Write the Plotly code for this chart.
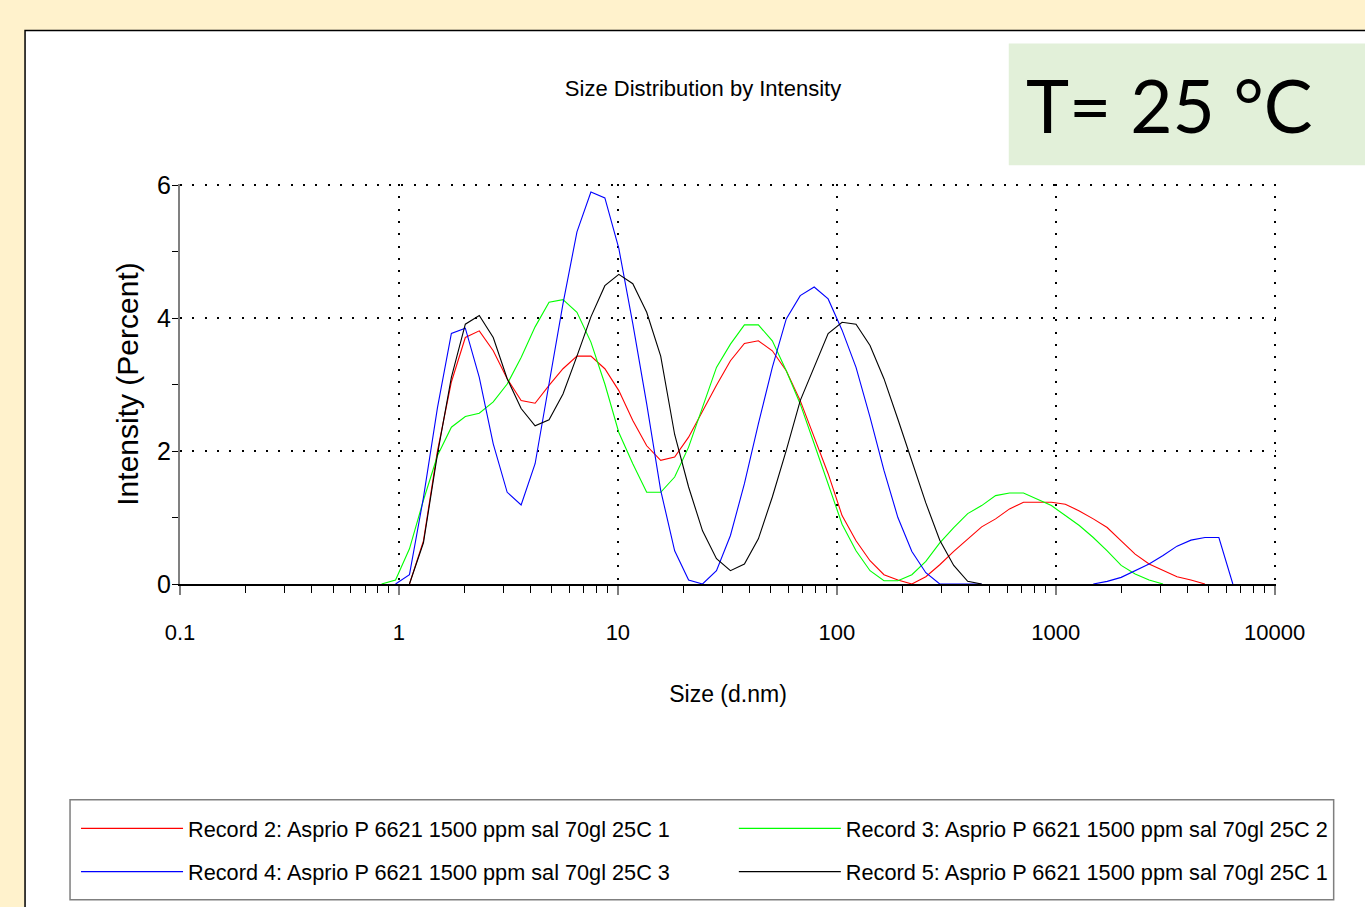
import plotly.graph_objects as go

# ---- data: standard 70 size bins (d.nm) and intensity (%) per record ----
sizes = [0.4, 0.4632, 0.5365, 0.6213, 0.7195, 0.8332, 0.9649, 1.117, 1.294, 1.499,
         1.736, 2.010, 2.328, 2.696, 3.122, 3.615, 4.187, 4.849, 5.615, 6.503,
         7.531, 8.721, 10.10, 11.70, 13.54, 15.69, 18.17, 21.04, 24.36, 28.21,
         32.67, 37.84, 43.82, 50.75, 58.77, 68.06, 78.82, 91.28, 105.7, 122.4,
         141.8, 164.2, 190.1, 220.2, 255.0, 295.3, 342.0, 396.1, 458.7, 531.2,
         615.1, 712.4, 825.0, 955.4, 1106, 1281, 1484, 1718, 1990, 2305,
         2669, 3091, 3580, 4145, 4801, 5560, 6439, 7456, 8635, 10000]

N = None
rec2 = [N, N, N, N, N, N, N, 0, 0.65, 2.0,
        3.04, 3.71, 3.81, 3.51, 3.09, 2.76, 2.72, 2.99, 3.24, 3.43,
        3.43, 3.24, 2.91, 2.46, 2.08, 1.86, 1.91, 2.21, 2.61, 2.99,
        3.36, 3.62, 3.66, 3.51, 3.21, 2.76, 2.21, 1.66, 1.03, 0.65,
        0.35, 0.14, 0.06, 0, 0.11, 0.29, 0.49, 0.68, 0.86, 0.98,
        1.13, 1.23, 1.23, 1.23, 1.20, 1.10, 0.98, 0.85, 0.65, 0.45,
        0.30, 0.20, 0.11, 0.06, 0, N, N, N, N, N]

rec3 = [N, N, N, N, N, 0, 0.06, 0.53, 1.26, 1.93,
        2.36, 2.52, 2.57, 2.74, 3.01, 3.41, 3.87, 4.24, 4.28, 4.09,
        3.64, 3.01, 2.28, 1.81, 1.38, 1.38, 1.61, 2.06, 2.66, 3.26,
        3.61, 3.90, 3.90, 3.66, 3.21, 2.71, 2.11, 1.51, 0.90, 0.50,
        0.20, 0.05, 0.05, 0.14, 0.34, 0.62, 0.85, 1.06, 1.18, 1.33,
        1.37, 1.37, 1.27, 1.18, 1.03, 0.88, 0.70, 0.50, 0.28, 0.15,
        0.06, 0, N, N, N, N, N, N, N, N]

rec4 = [N, N, N, N, N, N, 0, 0.14, 1.3, 2.65,
        3.77, 3.85, 3.11, 2.11, 1.38, 1.19, 1.81, 3.01, 4.22, 5.30,
        5.90, 5.81, 5.05, 3.92, 2.71, 1.41, 0.50, 0.06, 0, 0.20,
        0.73, 1.51, 2.41, 3.26, 3.99, 4.34, 4.47, 4.29, 3.82, 3.26,
        2.51, 1.71, 1.00, 0.49, 0.17, 0, 0, 0, 0, N,
        N, N, N, N, N, N, 0, 0.04, 0.10, 0.20,
        0.30, 0.43, 0.57, 0.66, 0.70, 0.70, 0, N, N, N]

rec5 = [N, N, N, N, N, N, N, 0, 0.62, 1.95,
        3.11, 3.91, 4.04, 3.71, 3.09, 2.64, 2.38, 2.47, 2.86, 3.43,
        4.02, 4.49, 4.66, 4.52, 4.09, 3.43, 2.25, 1.46, 0.80, 0.38,
        0.20, 0.30, 0.68, 1.31, 2.01, 2.76, 3.26, 3.77, 3.94, 3.91,
        3.59, 3.09, 2.48, 1.84, 1.22, 0.66, 0.28, 0.04, 0, N,
        N, N, N, N, N, N, N, N, N, N,
        N, N, N, N, N, N, N, N, N, N]

series_names = ["Record 2: Asprio P 6621 1500 ppm sal 70gl 25C 1",
                "Record 3: Asprio P 6621 1500 ppm sal 70gl 25C 2",
                "Record 4: Asprio P 6621 1500 ppm sal 70gl 25C 3",
                "Record 5: Asprio P 6621 1500 ppm sal 70gl 25C 1"]
series_values = [rec2, rec3, rec4, rec5]
series_colors = ["#ff0000", "#00ff00", "#0000ff", "#000000"]
series_legend = ["legend", "legend2", "legend", "legend2"]

x_tickvals = [0.1, 1, 10, 100, 1000, 10000]
x_ticktext = ["0.1", "1", "10", "100", "1000", "10000"]
y_tickvals = [0, 2, 4, 6]
y_minorvals = [1, 3, 5]

# ---- layout geometry (pixels) ----
W, H = 1365, 907
X_RANGE = [-1, 4.006]          # log10 range (a hair past 10000 so its grid line shows)
Y_RANGE = [0, 6.02]            # a hair past 6 so its grid line shows
PX_PER_DECADE = 219.0
PX_PER_UNIT = 66.5
L = 180.0
R = L + (X_RANGE[1] - X_RANGE[0]) * PX_PER_DECADE
B = 584.0
T = B - (Y_RANGE[1] - Y_RANGE[0]) * PX_PER_UNIT

def px(xp):
    return (xp - L) / (R - L)
def py(yp):
    return (B - yp) / (B - T)

FONT = "Liberation Sans, Arial, sans-serif"

fig = go.Figure()
for i, (name, vals, col, lg) in enumerate(zip(series_names, series_values,
                                              series_colors, series_legend)):
    fig.add_trace(go.Scatter(x=sizes, y=vals, mode="lines", name=name,
                             legend=lg, legendgroup="g%d" % i,
                             line=dict(color=col, width=1.1), connectgaps=False))

x_minor = [m * 10 ** e for e in range(-1, 4) for m in range(2, 10)]

legend_common = dict(orientation="v", yanchor="top", xanchor="left",
                     bgcolor="rgba(0,0,0,0)", borderwidth=0, itemwidth=102,
                     tracegroupgap=12, traceorder="grouped",
                     font=dict(family=FONT, size=21.7, color="#000000"))

fig.update_layout(
    width=W, height=H, autosize=False,
    margin=dict(l=L, r=W - R, t=T, b=H - B, pad=0),
    paper_bgcolor="#fff2cc",
    plot_bgcolor="#ffffff",
    showlegend=True,
    title=dict(text="Size Distribution by Intensity", x=703 / W, xanchor="center",
               y=1 - 88 / H, yanchor="middle",
               font=dict(family=FONT, size=22, color="#000000")),
    font=dict(family=FONT, color="#000000"),
    xaxis=dict(type="log", range=X_RANGE, tickmode="array", tickvals=x_tickvals,
               ticktext=x_ticktext, ticks="outside", ticklen=9, tickwidth=2,
               tickcolor="#7f7f7f", showline=True, linecolor="#000000", linewidth=1.5,
               showgrid=True, gridcolor="#000000", gridwidth=2, griddash="2px,10.3px",
               zeroline=False, layer="above traces",
               tickfont=dict(family=FONT, size=22, color="#000000"),
               ticklabelstandoff=19,
               minor=dict(tickmode="array", tickvals=x_minor, ticks="outside",
                          ticklen=7, tickwidth=1, tickcolor="#000000", showgrid=False),
               title=dict(text="Size (d.nm)", standoff=42,
                          font=dict(family=FONT, size=23, color="#000000"))),
    yaxis=dict(range=Y_RANGE, tickmode="array", tickvals=y_tickvals,
               ticks="outside", ticklen=6, tickwidth=1, tickcolor="#000000",
               showline=True, linecolor="#808080", linewidth=2,
               showgrid=True, gridcolor="#000000", gridwidth=2, griddash="2px,10.3px",
               zeroline=False, layer="above traces",
               tickfont=dict(family=FONT, size=25, color="#000000"),
               ticklabelstandoff=-4,
               minor=dict(tickmode="array", tickvals=y_minorvals, ticks="outside",
                          ticklen=6, tickwidth=1, tickcolor="#000000", showgrid=False),
               title=dict(text="Intensity (Percent)", standoff=10,
                          font=dict(family=FONT, size=30, color="#000000"))),
    legend=dict(x=px(76), y=py(808), **legend_common),
    legend2=dict(x=px(734), y=py(808), **legend_common),
    shapes=[
        dict(type="rect", xref="paper", yref="paper", x0=px(25), x1=px(1500),
             y0=py(1000), y1=py(30), line=dict(color="#000000", width=1.5),
             fillcolor="#ffffff", layer="below"),
        dict(type="rect", xref="paper", yref="paper", x0=px(1009), x1=px(1500),
             y0=py(165), y1=py(43), line=dict(width=0),
             fillcolor="#e2f0d9", layer="below"),
        dict(type="rect", xref="paper", yref="paper", x0=px(70), x1=px(1334),
             y0=py(900), y1=py(800), line=dict(color="#7f7f7f", width=1.5),
             fillcolor="#ffffff", layer="below"),
    ],
    annotations=[
        dict(text="T= 25 °C", xref="paper", yref="paper", x=px(1024), y=py(105),
             xanchor="left", yanchor="middle", showarrow=False,
             font=dict(family="Lato, Open Sans, sans-serif", size=73, color="#000000")),
    ],
)

fig.write_html("out.html", config={"displayModeBar": False},
               post_script="document.body.style.margin='0';")
